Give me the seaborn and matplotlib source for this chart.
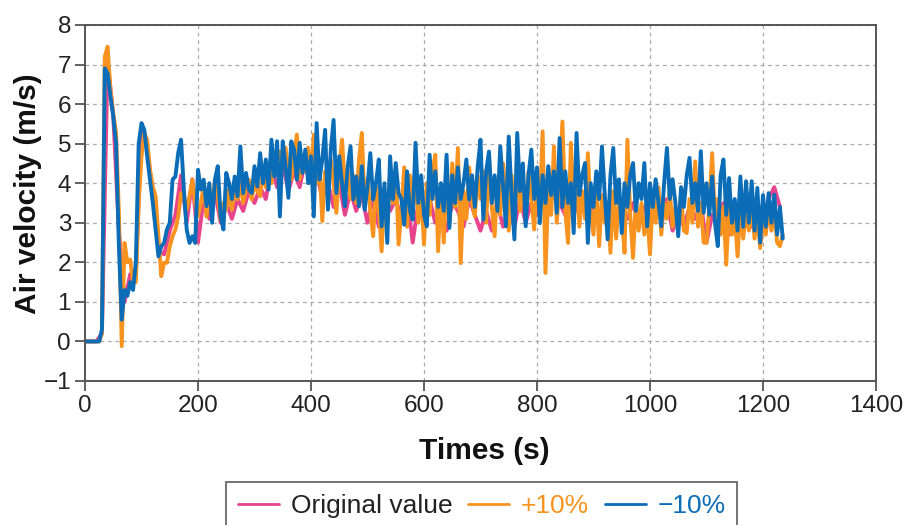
import numpy as np
import pandas as pd
import matplotlib
matplotlib.use("Agg")
import matplotlib.pyplot as plt
import seaborn as sns

# ---- data ----
time_fine = np.arange(0, 1240, 5)      # sampling times for the +/-10% series (s)
time_coarse = np.arange(0, 1240, 10)   # sampling times for the original series (s)

minus10 = [
    0, 0, 0, 0, 0, 0, 0.3, 6.9, 6.78, 6.2,
    5.69, 5.0, 2.4, 0.55, 1.3, 1.15, 1.5, 1.3, 2.0, 5.0,
    5.52, 5.35, 4.68, 4.09, 3.5, 2.83, 2.15, 2.4, 2.49, 2.83,
    3.0, 4.09, 4.17, 4.77, 5.1, 3.84, 2.83, 2.49, 2.66, 2.49,
    4.34, 3.84, 4.09, 3.42, 4.0, 3.0, 4.09, 4.43, 3.16, 2.83,
    4.26, 4.0, 3.6, 4.17, 3.67, 4.93, 3.75, 4.26, 3.84, 3.75,
    4.43, 3.92, 4.76, 4.0, 4.6, 3.84, 5.1, 4.17, 5.06, 3.16,
    5.06, 4.43, 3.63, 5.06, 4.85, 4.09, 5.02, 4.26, 4.85, 4.0,
    4.68, 3.16, 5.52, 4.09, 4.6, 5.35, 3.33, 4.85, 5.6, 3.75,
    4.68, 4.0, 3.42, 4.43, 4.93, 3.59, 4.17, 3.42, 4.43, 3.33,
    3.92, 4.76, 3.59, 4.0, 4.6, 2.91, 4.0, 2.49, 4.68, 3.59,
    4.51, 3.75, 3.6, 2.95, 4.3, 3.3, 3.08, 5.02, 3.5, 4.2,
    3.2, 2.91, 4.72, 3.6, 4.3, 3.4, 4.0, 3.3, 4.72, 2.87,
    4.2, 3.5, 4.4, 3.6, 4.0, 4.6, 3.59, 4.2, 3.4, 4.4,
    5.1, 3.08, 4.3, 4.8, 3.5, 4.2, 3.3, 4.93, 3.9, 2.91,
    5.18, 3.7, 2.58, 5.27, 3.8, 4.5, 2.91, 4.2, 4.85, 3.6,
    4.4, 2.99, 4.2, 3.5, 4.43, 3.7, 4.3, 3.25, 5.14, 3.4,
    4.3, 3.5, 4.0, 2.74, 5.27, 3.7, 4.2, 4.51, 2.49, 4.0,
    3.4, 4.3, 3.6, 4.93, 3.7, 2.58, 4.2, 4.89, 3.5, 4.1,
    2.74, 4.0, 3.4, 4.2, 4.51, 3.3, 4.0, 3.6, 4.51, 2.91,
    4.0, 3.4, 4.1, 3.5, 2.91, 4.0, 4.89, 3.6, 4.1, 3.5,
    2.66, 3.9, 3.4, 4.2, 4.64, 3.5, 4.0, 3.3, 4.81, 3.25,
    4.0, 3.2, 4.17, 3.0, 2.41, 4.2, 4.6, 3.2, 4.13, 3.0,
    3.6, 2.8, 4.17, 2.9, 4.05, 3.0, 4.05, 2.8, 3.88, 2.5,
    3.7, 2.9, 3.75, 3.0, 3.71, 2.7, 3.4, 2.6,
]

plus10 = [
    0, 0, 0, 0, 0, 0, 0.2, 7.2, 7.45, 6.36,
    5.77, 5.27, 3.25, -0.12, 2.49, 2.0, 2.07, 1.5, 1.5, 3.5,
    4.68, 5.27, 5.1, 4.34, 3.92, 3.67, 2.66, 1.65, 1.99, 1.99,
    2.4, 2.66, 2.83, 3.16, 3.75, 3.67, 3.33, 3.67, 4.09, 3.5,
    3.16, 3.5, 3.92, 3.16, 3.75, 3.5, 4.09, 3.67, 3.08, 3.5,
    3.33, 3.84, 3.33, 3.92, 3.59, 4.0, 3.5, 3.84, 4.09, 3.59,
    4.0, 3.8, 3.67, 4.3, 3.9, 4.5, 4.0, 4.6, 4.2, 4.8,
    4.4, 4.9, 4.3, 4.09, 4.7, 5.23, 4.1, 4.7, 4.3, 4.9,
    4.2, 5.23, 4.0, 4.5, 3.04, 4.3, 3.8, 4.6, 4.0, 3.25,
    4.4, 5.1, 3.9, 4.3, 3.6, 4.2, 3.5, 4.6, 5.27, 3.4,
    4.1, 3.3, 2.66, 3.9, 3.4, 2.28, 3.8, 3.0, 4.2, 3.5,
    4.4, 2.45, 3.3, 4.4, 2.9, 4.2, 3.2, 4.5, 3.0, 3.8,
    2.45, 4.0, 3.2, 4.3, 4.72, 2.28, 3.9, 2.5, 4.2, 3.0,
    4.5, 3.4, 4.89, 1.98, 3.8, 3.1, 4.4, 3.5, 3.16, 4.2,
    3.6, 4.3, 3.0, 4.64, 3.4, 2.66, 4.1, 3.2, 4.5, 3.5,
    2.8, 4.2, 3.1, 4.6, 3.3, 4.0, 3.2, 4.3, 3.6, 2.83,
    4.0, 3.4, 5.31, 1.73, 3.8, 3.2, 4.93, 3.0, 4.0, 5.56,
    3.3, 2.49, 5.02, 3.4, 4.1, 2.9, 3.8, 3.1, 4.76, 3.3,
    2.7, 3.9, 2.41, 3.7, 3.0, 3.5, 2.24, 3.8, 2.6, 3.6,
    3.2, 2.24, 5.1, 3.2, 2.11, 3.6, 2.8, 3.5, 2.7, 3.3,
    2.2, 3.6, 3.0, 3.9, 2.7, 3.5, 3.1, 3.8, 2.9, 3.4,
    3.0, 3.7, 2.8, 2.74, 3.6, 3.0, 4.55, 2.9, 3.5, 2.5,
    2.49, 3.4, 4.76, 3.1, 3.6, 2.7, 3.4, 1.94, 3.5, 2.7,
    3.2, 2.15, 3.4, 2.6, 3.3, 2.8, 3.5, 2.6, 3.2, 2.36,
    3.1, 2.7, 3.4, 2.8, 3.3, 2.5, 2.41, 2.7,
]

original = [
    0, 0, 0, 0.2, 7.1, 5.7, 2.8, 1.0, 1.7, 1.8,
    5.3, 4.9, 3.7, 2.3, 2.2, 2.8, 3.2, 4.2, 3.0, 4.1,
    2.5, 3.6, 3.1, 3.8, 3.0, 3.5, 3.1, 3.6, 3.3, 3.8,
    3.5, 3.9, 3.6, 4.4, 3.9, 4.5, 3.8, 4.3, 3.9, 4.6,
    4.0, 4.3, 3.6, 4.0, 3.4, 4.0, 3.2, 3.8, 3.3, 3.7,
    3.0, 3.6, 2.9, 3.5, 3.3, 3.6, 3.1, 3.7, 2.5, 3.5,
    3.1, 3.6, 3.0, 3.4, 2.8, 3.5, 3.3, 2.9, 3.6, 3.2,
    2.8, 3.3, 2.8, 3.5, 2.9, 3.4, 2.9, 3.6, 3.0, 3.5,
    3.2, 3.6, 3.3, 3.8, 3.5, 3.2, 3.7, 3.3, 3.6, 3.1,
    3.5, 3.1, 3.6, 3.3, 3.0, 3.3, 3.1, 3.5, 3.0, 3.4,
    3.1, 3.5, 3.2, 3.6, 2.8, 3.3, 2.9, 3.4, 3.1, 3.5,
    2.5, 3.2, 2.9, 3.5, 2.7, 3.4, 3.0, 3.3, 2.9, 3.5,
    3.1, 3.6, 3.9, 3.4,
]

series_labels = ["Original value", "+10%", "\u221210%"]
x_ticks = [0, 200, 400, 600, 800, 1000, 1200, 1400]
y_ticks = [-1, 0, 1, 2, 3, 4, 5, 6, 7, 8]

PINK = "#e8438d"
ORANGE = "#f7931e"
BLUE = "#0b6db7"

df_orig = pd.DataFrame({"t": time_coarse, "v": original})
df_plus = pd.DataFrame({"t": time_fine, "v": plus10})
df_minus = pd.DataFrame({"t": time_fine, "v": minus10})

sns.set_theme(style="white")
plt.rcParams["font.family"] = ["Liberation Sans", "DejaVu Sans"]

fig = plt.figure(figsize=(9.14, 5.25), dpi=100)
ax = fig.add_axes([0.093, 0.2743, 0.8654, 0.6781])

LW = 2.8
sns.lineplot(data=df_orig, x="t", y="v", color=PINK, lw=LW, ax=ax,
             label=series_labels[0], sort=False)
sns.lineplot(data=df_plus, x="t", y="v", color=ORANGE, lw=LW, ax=ax,
             label=series_labels[1], sort=False)
sns.lineplot(data=df_minus, x="t", y="v", color=BLUE, lw=LW, ax=ax,
             label=series_labels[2], sort=False)

ax.set_xlim(0, 1400)
ax.set_ylim(-1, 8)
ax.set_xticks(x_ticks)
ax.set_yticks(y_ticks)
ax.grid(True, color="#aaaaaa", linestyle=(0, (3, 3)), linewidth=0.9)
ax.set_axisbelow(True)

for s in ax.spines.values():
    s.set_color("#555555")
    s.set_linewidth(1.4)

ax.tick_params(axis="both", direction="out", length=7, width=1.3,
               color="#555555", labelsize=17.5, pad=3,
               left=True, bottom=True, labelcolor="#222222")

ax.set_xlabel("Times (s)", fontsize=21.5, fontweight="bold", color="#111111")
ax.set_ylabel("Air velocity (m/s)", fontsize=21.5, fontweight="bold", color="#111111")
ax.xaxis.set_label_coords(0.505, -0.157)
ax.yaxis.set_label_coords(-0.054, 0.525)

handles, labels = ax.get_legend_handles_labels()
ax.get_legend().remove()
leg = fig.legend(handles, labels, loc="upper center", bbox_to_anchor=(0.527, 0.082),
                 borderaxespad=0.0,
                 ncol=3, frameon=True, fancybox=False, shadow=False,
                 fontsize=19, labelcolor=["#222222", ORANGE, BLUE],
                 handlelength=1.55, handletextpad=0.45, columnspacing=0.6,
                 borderpad=0.45)
leg.get_frame().set_edgecolor("#333333")
leg.get_frame().set_linewidth(1.2)
for line in leg.get_lines():
    line.set_linewidth(2.0)

fig.savefig("out.png", dpi=100)
